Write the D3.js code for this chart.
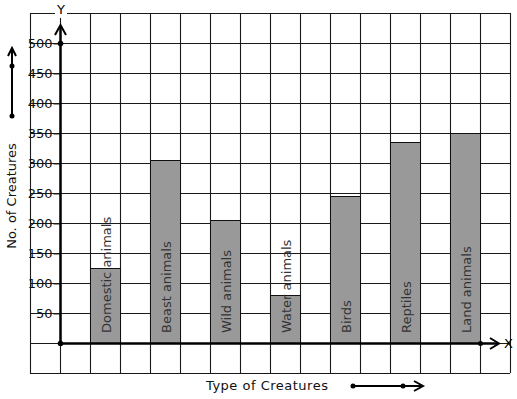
<!DOCTYPE html>
<html>
<head>
<meta charset="utf-8">
<script src="https://cdn.jsdelivr.net/npm/d3@7"></script>
<style>
 body { margin: 0; background: #fff; }
 text { font-family: "DejaVu Sans", sans-serif; }
</style>
</head>
<body>
<script>
// Bar chart on a square grid - number of creatures by type

var categories = ["Domestic animals", "Beast animals", "Wild animals", "Water animals", "Birds", "Reptiles", "Land animals"];
var counts = [125, 305, 205, 80, 245, 335, 350];
var yTicks = [50, 100, 150, 200, 250, 300, 350, 400, 450, 500];

var width = 517, height = 399;

var svg = d3.select("body").append("svg")
 .attr("width", width)
 .attr("height", height);

// grid runs one cell past the data on every side
var y = d3.scaleLinear().domain([-50, 550]).range([373, 13]);
var xGrid = d3.scaleLinear().domain([-1, 15]).range([30, 510]);
var x = d3.scaleBand().domain(categories).range([60, 510]).paddingInner(0.5).paddingOuter(0.5);

var grid = svg.append("g").attr("stroke", "#1a1a1a").attr("stroke-width", 1.1);

grid.selectAll("line.h")
 .data(d3.range(-50, 551, 50))
 .enter().append("line")
 .attr("x1", 30).attr("x2", 510)
 .attr("y1", function(d) { return y(d) + 0.5; })
 .attr("y2", function(d) { return y(d) + 0.5; });

grid.selectAll("line.v")
 .data(d3.range(-1, 16))
 .enter().append("line")
 .attr("y1", 13).attr("y2", 373)
 .attr("x1", function(d) { return xGrid(d) + 0.5; })
 .attr("x2", function(d) { return xGrid(d) + 0.5; });

// bars
svg.selectAll("rect.bar")
 .data(categories)
 .enter().append("rect")
 .attr("class", "bar")
 .attr("x", function(d) { return x(d) + 0.5; })
 .attr("y", function(d, i) { return y(counts[i]) + 0.5; })
 .attr("width", x.bandwidth())
 .attr("height", function(d, i) { return y(0) - y(counts[i]); })
 .attr("fill", "#999")
 .attr("stroke", "#111");

svg.selectAll("text.barlabel")
 .data(categories)
 .enter().append("text")
 .attr("transform", function(d) { return "translate(" + (x(d) + x.bandwidth() / 2 + 1) + ",333) rotate(-90)"; })
 .attr("dominant-baseline", "central")
 .attr("font-size", 13)
 .attr("fill", "#333")
 .text(function(d) { return d; });

// y tick labels
var yAxis = svg.append("g")
 .attr("transform", "translate(60.5,0.5)")
 .call(d3.axisLeft(y).tickValues(yTicks).tickSize(7).tickPadding(1));
yAxis.select(".domain").remove();
yAxis.selectAll("text").attr("font-size", 13).attr("fill", "#111").attr("font-family", "DejaVu Sans, sans-serif");
yAxis.selectAll("line").attr("stroke", "#222");

// axes with arrows
var axes = svg.append("g").attr("stroke", "#000").attr("fill", "none").attr("stroke-width", 2.5);
axes.append("line").attr("x1", 60.5).attr("y1", y(0) + 0.5).attr("x2", 60.5).attr("y2", 26);
axes.append("path").attr("d", "M55,35L60.5,25L66,35").attr("stroke-width", 2);
axes.append("line").attr("x1", 60).attr("y1", y(0) + 0.5).attr("x2", 498).attr("y2", y(0) + 0.5);
axes.append("path").attr("d", "M490," + (y(0) - 5) + "L499," + (y(0) + 0.5) + "L490," + (y(0) + 6)).attr("stroke-width", 2);

svg.append("circle").attr("cx", 60.5).attr("cy", y(500) + 0.5).attr("r", 2.8);
svg.append("circle").attr("cx", 60.5).attr("cy", y(0) + 0.5).attr("r", 2.8);
svg.append("circle").attr("cx", 480.5).attr("cy", y(0) + 0.5).attr("r", 2.5);

// axis letters
svg.append("rect").attr("x", 55).attr("y", 8).attr("width", 12).attr("height", 10).attr("fill", "#fff");
svg.append("text").attr("x", 61).attr("y", 14).attr("text-anchor", "middle").attr("font-size", 13).text("Y");
svg.append("text").attr("x", 504).attr("y", 348).attr("font-size", 13).text("X");

// y title and its arrow
svg.append("text")
 .attr("transform", "translate(16,196) rotate(-90)")
 .attr("text-anchor", "middle")
 .attr("font-size", 13)
 .attr("fill", "#111")
 .text("No. of Creatures");

var arrows = svg.append("g").attr("stroke", "#000").attr("fill", "none").attr("stroke-width", 2);
arrows.append("line").attr("x1", 12).attr("y1", 116).attr("x2", 12).attr("y2", 49);
arrows.append("path").attr("d", "M8,56L12,48L16,56");
svg.append("circle").attr("cx", 12).attr("cy", 66).attr("r", 2.5);
svg.append("circle").attr("cx", 12).attr("cy", 116).attr("r", 2.5);

// x title and its arrow
svg.append("text")
 .attr("x", 206).attr("y", 390)
 .attr("font-size", 13)
 .attr("letter-spacing", 0.5)
 .attr("fill", "#111")
 .text("Type of Creatures");

arrows.append("line").attr("x1", 353).attr("y1", 386).attr("x2", 422).attr("y2", 386);
arrows.append("path").attr("d", "M414,381L423,386L414,391");
svg.append("circle").attr("cx", 353).attr("cy", 386).attr("r", 2.5);
svg.append("circle").attr("cx", 403).attr("cy", 386).attr("r", 2.5);
</script>
</body>
</html>
